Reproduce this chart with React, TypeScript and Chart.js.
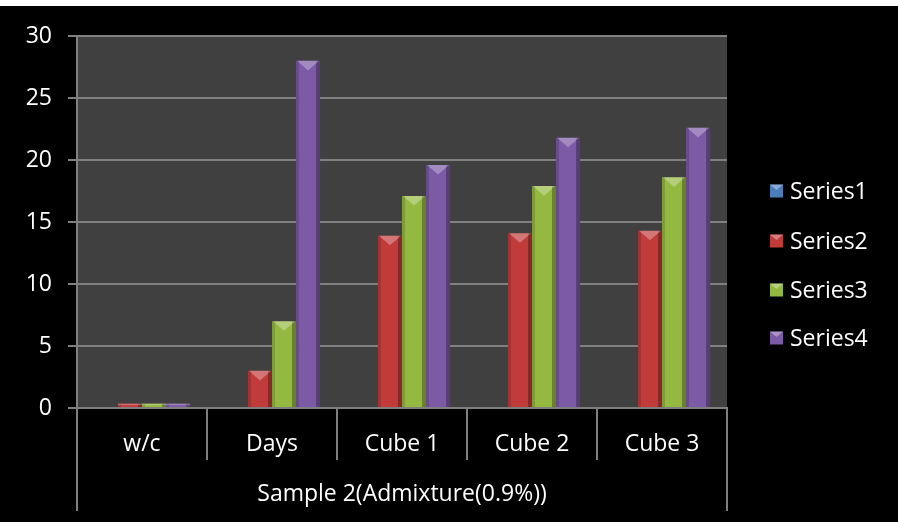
import React, { useEffect, useRef } from "react";
import { Chart, registerables } from "chart.js";

Chart.register(...registerables);

const categories = ["w/c", "Days", "Cube 1", "Cube 2", "Cube 3"];
const groupLabel = "Sample 2(Admixture(0.9%))";
const seriesNames = ["Series1", "Series2", "Series3", "Series4"];
const series1 = [0, 0, 0, 0, 0];
const series2 = [0.35, 3, 13.9, 14.1, 14.3];
const series3 = [0.35, 7, 17.1, 17.9, 18.6];
const series4 = [0.35, 28, 19.6, 21.8, 22.6];
const seriesColors = ["#4a7ebb", "#c23b3b", "#94b940", "#7c5aa6"];
const FONT = "'Open Sans', 'DejaVu Sans', sans-serif";
const FS = 23;

const decorPlugin = {
  id: "decor",
  beforeDraw(chart: any) {
    const { ctx, chartArea } = chart;
    ctx.save();
    ctx.fillStyle = "#000000";
    ctx.fillRect(0, 0, chart.width, chart.height);
    ctx.fillStyle = "#404040";
    ctx.fillRect(chartArea.left, chartArea.top, chartArea.right - chartArea.left, chartArea.bottom - chartArea.top);
    ctx.restore();
  },
  afterDatasetsDraw(chart: any) {
    const { ctx } = chart;
    ctx.save();
    chart.data.datasets.forEach((_ds: any, di: number) => {
      const meta = chart.getDatasetMeta(di);
      meta.data.forEach((el: any) => {
        const { x, y, width, base } = el.getProps(["x", "y", "width", "base"], true);
        const h = base - y;
        if (h <= 0.5) return;
        const left = x - width / 2;
        const right = x + width / 2;
        ctx.fillStyle = "rgba(0,0,0,0.15)";
        ctx.fillRect(left, y, 3, h);
        ctx.fillStyle = "rgba(0,0,0,0.3)";
        ctx.fillRect(right - 4, y, 4, h);
        if (h > width * 0.45) {
          ctx.fillStyle = "rgba(255,255,255,0.3)";
          ctx.beginPath();
          ctx.moveTo(left + 1, y);
          ctx.lineTo(right - 1, y);
          ctx.lineTo(x, y + width * 0.4);
          ctx.closePath();
          ctx.fill();
        } else {
          ctx.fillStyle = "rgba(255,255,255,0.25)";
          ctx.fillRect(left, y, width, Math.min(1.5, h));
        }
      });
    });
    ctx.restore();
  },
  afterDraw(chart: any) {
    const { ctx, chartArea } = chart;
    const n = chart.data.labels.length;
    const step = (chartArea.right - chartArea.left) / n;
    ctx.save();
    ctx.strokeStyle = "#7f7f7f";
    ctx.lineWidth = 2;
    for (let i = 0; i <= n; i++) {
      const xx = chartArea.left + step * i;
      const outer = i === 0 || i === n;
      ctx.beginPath();
      ctx.moveTo(xx, chartArea.bottom);
      ctx.lineTo(xx, chartArea.bottom + (outer ? 103 : 52));
      ctx.stroke();
    }
    ctx.fillStyle = "#ffffff";
    ctx.font = `${FS}px ${FONT}`;
    ctx.textAlign = "center";
    ctx.textBaseline = "middle";
    ctx.fillText(groupLabel, (chartArea.left + chartArea.right) / 2, chartArea.bottom + 86);

    // legend
    const lx = chartArea.right + 43;
    const ys = [185, 235, 284, 332];
    chart.data.datasets.forEach((ds: any, i: number) => {
      const cy = ys[i];
      ctx.fillStyle = ds.backgroundColor;
      ctx.fillRect(lx, cy - 6.5, 13, 13);
      ctx.fillStyle = "rgba(255,255,255,0.35)";
      ctx.beginPath();
      ctx.moveTo(lx, cy - 6.5);
      ctx.lineTo(lx + 13, cy - 6.5);
      ctx.lineTo(lx + 6.5, cy - 1);
      ctx.closePath();
      ctx.fill();
      ctx.fillStyle = "#ffffff";
      ctx.textAlign = "left";
      ctx.fillText(ds.label, lx + 20, cy + 1);
    });
    ctx.restore();
  },
};

export default function App() {
  const ref = useRef<HTMLCanvasElement | null>(null);
  useEffect(() => {
    if (!ref.current) return;
    const values = [series1, series2, series3, series4];
    const chart = new Chart(ref.current, {
      type: "bar",
      data: {
        labels: categories,
        datasets: seriesNames.map((name, i) => ({
          label: name,
          data: values[i],
          backgroundColor: seriesColors[i],
          borderWidth: 0,
          barPercentage: 1,
          categoryPercentage: 0.74,
        })),
      },
      options: {
        animation: false,
        responsive: true,
        maintainAspectRatio: false,
        layout: { padding: { top: 30, right: 171, left: 0, bottom: 0 } },
        plugins: { legend: { display: false }, tooltip: { enabled: false } },
        scales: {
          x: {
            grid: { display: false },
            border: { display: true, color: "#7f7f7f", width: 2 },
            ticks: { color: "#ffffff", font: { family: FONT, size: FS }, padding: 15, maxRotation: 0 },
            afterFit: (s: any) => {
              s.height = 114;
            },
          },
          y: {
            min: 0,
            max: 30,
            ticks: { stepSize: 5, color: "#ffffff", font: { family: FONT, size: FS }, padding: 16 },
            grid: { color: "#808080", lineWidth: 2, tickLength: 9 },
            border: { display: true, color: "#808080", width: 2 },
            afterFit: (s: any) => {
              s.width = 77;
            },
          },
        },
      },
      plugins: [decorPlugin],
    });
    return () => chart.destroy();
  }, []);
  return (
    <div style={{ position: "fixed", top: 6, left: 0, width: 898, height: 516, background: "#000" }}>
      <canvas ref={ref} />
    </div>
  );
}
